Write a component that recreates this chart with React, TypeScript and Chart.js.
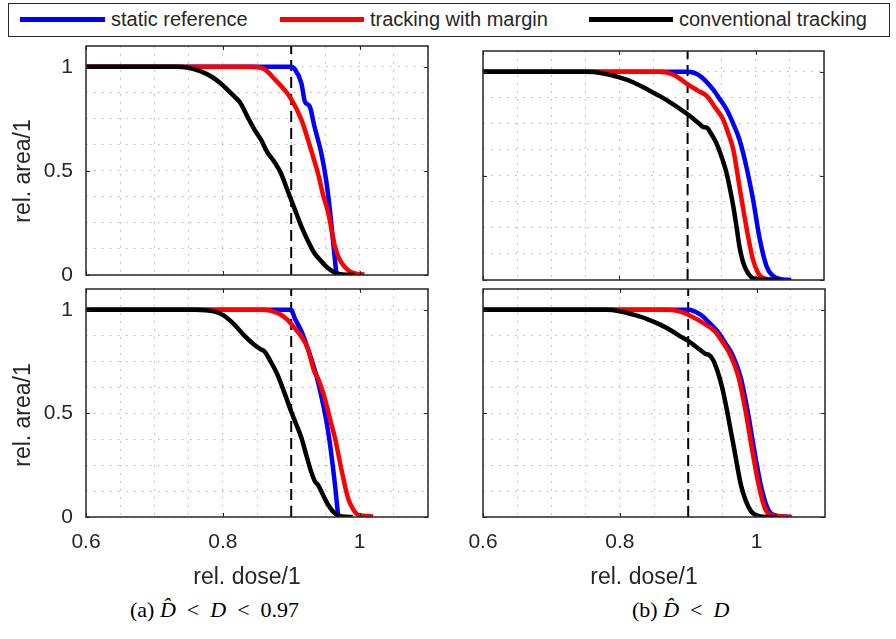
import React, { useEffect, useRef } from "react";
import { Chart, registerables } from "chart.js";

Chart.register(...registerables);

type P = [number, number];

// ---------- data ----------
const X_MIN = 0.6;
const X_MAX = 1.1;
const Y_MIN = 0;
const Y_MAX = 1.1;
const X_GRID_STEP = 0.05;
const Y_GRID_STEP = 0.125;
const X_TICKS = [0.6, 0.8, 1.0];
const X_TICK_LABELS = ["0.6", "0.8", "1"];
const Y_TICKS = [0, 0.5, 1];
const Y_TICK_LABELS = ["0", "0.5", "1"];
const THRESHOLD_DOSE = 0.9;

const SERIES_NAMES = ["static reference", "tracking with margin", "conventional tracking"];
const CAPTIONS = ["(a)", "(b)"];

// (a) top
const A_TOP_STATIC: P[] = [[0.6, 1], [0.9, 1], [0.905, 0.99], [0.915, 0.92], [0.92, 0.833], [0.927, 0.81], [0.934, 0.713], [0.944, 0.585], [0.951, 0.457], [0.956, 0.33], [0.961, 0.168], [0.964, 0.072], [0.966, 0.01], [0.967, 0]];
const A_TOP_MARGIN: P[] = [[0.6, 1], [0.84, 1], [0.86, 0.99], [0.876, 0.94], [0.89, 0.89], [0.9, 0.845], [0.915, 0.745], [0.93, 0.59], [0.939, 0.49], [0.947, 0.38], [0.954, 0.3], [0.96, 0.2], [0.964, 0.136], [0.97, 0.08], [0.978, 0.04], [0.99, 0.01], [1.007, 0.003]];
const A_TOP_CONV: P[] = [[0.6, 1], [0.73, 1], [0.75, 0.995], [0.768, 0.978], [0.785, 0.95], [0.797, 0.92], [0.81, 0.88], [0.817, 0.857], [0.825, 0.83], [0.836, 0.761], [0.846, 0.7], [0.856, 0.649], [0.865, 0.59], [0.875, 0.545], [0.885, 0.489], [0.892, 0.43], [0.9, 0.36], [0.907, 0.3], [0.915, 0.232], [0.925, 0.16], [0.934, 0.104], [0.943, 0.07], [0.954, 0.032], [0.965, 0.01], [0.975, 0.002], [0.993, 0]];

// (a) bottom
const A_BOT_STATIC: P[] = [[0.6, 1], [0.9, 1], [0.905, 0.96], [0.915, 0.895], [0.924, 0.815], [0.939, 0.654], [0.954, 0.413], [0.964, 0.156], [0.968, 0.027], [0.969, 0]];
const A_BOT_MARGIN: P[] = [[0.6, 1], [0.86, 1], [0.875, 0.99], [0.885, 0.976], [0.895, 0.95], [0.905, 0.912], [0.915, 0.87], [0.924, 0.815], [0.934, 0.7], [0.939, 0.67], [0.949, 0.574], [0.957, 0.47], [0.964, 0.381], [0.974, 0.22], [0.983, 0.092], [0.99, 0.04], [0.998, 0.01], [1.02, 0.003]];
const A_BOT_CONV: P[] = [[0.6, 1], [0.76, 1], [0.787, 0.992], [0.8, 0.975], [0.817, 0.928], [0.83, 0.88], [0.846, 0.831], [0.855, 0.81], [0.861, 0.799], [0.87, 0.75], [0.88, 0.686], [0.89, 0.6], [0.9, 0.509], [0.907, 0.45], [0.915, 0.381], [0.922, 0.3], [0.929, 0.22], [0.935, 0.17], [0.939, 0.156], [0.946, 0.11], [0.954, 0.059], [0.963, 0.02], [0.974, 0.003], [0.99, 0]];

// (b) top
const B_TOP_STATIC: P[] = [[0.6, 1], [0.9, 1], [0.918, 0.981], [0.937, 0.917], [0.947, 0.87], [0.957, 0.82], [0.967, 0.75], [0.976, 0.675], [0.986, 0.547], [0.996, 0.386], [1.006, 0.193], [1.016, 0.064], [1.025, 0.02], [1.035, 0.005], [1.052, 0]];
const B_TOP_MARGIN: P[] = [[0.6, 1], [0.86, 1], [0.88, 0.985], [0.9, 0.94], [0.915, 0.91], [0.928, 0.884], [0.94, 0.83], [0.952, 0.772], [0.96, 0.7], [0.967, 0.627], [0.976, 0.45], [0.986, 0.257], [0.996, 0.096], [1.004, 0.03], [1.011, 0.01], [1.025, 0]];
const B_TOP_CONV: P[] = [[0.6, 1], [0.75, 1], [0.775, 0.993], [0.8, 0.973], [0.82, 0.95], [0.84, 0.917], [0.86, 0.882], [0.879, 0.844], [0.9, 0.796], [0.91, 0.77], [0.918, 0.748], [0.923, 0.735], [0.928, 0.732], [0.935, 0.7], [0.942, 0.659], [0.95, 0.59], [0.957, 0.515], [0.962, 0.44], [0.967, 0.354], [0.972, 0.25], [0.976, 0.161], [0.981, 0.09], [0.986, 0.048], [0.993, 0.015], [1.0, 0.005], [1.035, 0]];

// (b) bottom
const B_BOT_STATIC: P[] = [[0.6, 1], [0.9, 1], [0.918, 0.976], [0.93, 0.94], [0.943, 0.895], [0.952, 0.85], [0.962, 0.799], [0.97, 0.74], [0.977, 0.67], [0.987, 0.509], [0.996, 0.333], [1.006, 0.156], [1.016, 0.043], [1.025, 0.01], [1.05, 0]];
const B_BOT_MARGIN: P[] = [[0.6, 1], [0.87, 1], [0.89, 0.99], [0.9, 0.976], [0.92, 0.94], [0.939, 0.895], [0.949, 0.85], [0.959, 0.799], [0.967, 0.74], [0.974, 0.67], [0.984, 0.509], [0.993, 0.333], [1.003, 0.156], [1.012, 0.043], [1.021, 0.01], [1.052, 0]];
const B_BOT_CONV: P[] = [[0.6, 1], [0.78, 1], [0.8, 0.993], [0.82, 0.976], [0.84, 0.955], [0.859, 0.928], [0.875, 0.9], [0.889, 0.87], [0.9, 0.85], [0.91, 0.825], [0.92, 0.8], [0.925, 0.787], [0.93, 0.783], [0.936, 0.76], [0.943, 0.702], [0.95, 0.62], [0.957, 0.509], [0.962, 0.42], [0.967, 0.333], [0.972, 0.24], [0.977, 0.156], [0.984, 0.08], [0.992, 0.027], [1.0, 0.008], [1.006, 0.003], [1.03, 0]];

// ---------- styling ----------
const COLORS = ["#0000ff", "#ff0000", "#000000"];
const SANS = "'Liberation Sans', Arial, Helvetica, sans-serif";
const AXIS_COLOR = "#262626";
const PADL = 80;
const PADR = 6;
const PADT = 6;
const PADB = 44;

type Area = { l: number; t: number; r: number; b: number };
type PanelDef = { area: Area; series: P[][]; showX: boolean; showY: boolean };

const PANELS: PanelDef[] = [
  { area: { l: 86, t: 46, r: 428, b: 275 }, series: [A_TOP_STATIC, A_TOP_MARGIN, A_TOP_CONV], showX: false, showY: true },
  { area: { l: 483, t: 51, r: 824, b: 280 }, series: [B_TOP_STATIC, B_TOP_MARGIN, B_TOP_CONV], showX: false, showY: false },
  { area: { l: 86, t: 289, r: 428, b: 517 }, series: [A_BOT_STATIC, A_BOT_MARGIN, A_BOT_CONV], showX: true, showY: true },
  { area: { l: 483, t: 289, r: 825, b: 517 }, series: [B_BOT_STATIC, B_BOT_MARGIN, B_BOT_CONV], showX: true, showY: false },
];

const near = (a: number, b: number) => Math.abs(a - b) < 1e-6;

const boxPlugin = {
  id: "matlabBox",
  afterDatasetsDraw(chart: any) {
    const { ctx, chartArea } = chart;
    const xs = chart.scales.x;
    const ys = chart.scales.y;
    const { left, right, top, bottom } = chartArea;
    ctx.save();
    ctx.strokeStyle = AXIS_COLOR;
    ctx.lineWidth = 1;
    ctx.beginPath();
    X_TICKS.forEach((v) => {
      const px = Math.round(xs.getPixelForValue(v)) + 0.5;
      ctx.moveTo(px, bottom);
      ctx.lineTo(px, bottom - 4);
      ctx.moveTo(px, top);
      ctx.lineTo(px, top + 4);
    });
    Y_TICKS.forEach((v) => {
      const py = Math.round(ys.getPixelForValue(v)) + 0.5;
      ctx.moveTo(left, py);
      ctx.lineTo(left + 4, py);
      ctx.moveTo(right, py);
      ctx.lineTo(right - 4, py);
    });
    ctx.stroke();
    ctx.lineWidth = 1.5;
    ctx.strokeRect(left, top, right - left, bottom - top);
    ctx.restore();
  },
};

function makeConfig(p: PanelDef) {
  const names = SERIES_NAMES;
  const lines = p.series.map((pts, i) => ({
    label: names[i],
    data: pts.map(([x, y]) => ({ x, y })),
    borderColor: COLORS[i],
    backgroundColor: COLORS[i],
    borderWidth: 4.5,
    pointRadius: 0,
    fill: false,
    cubicInterpolationMode: "monotone",
    order: 2 - i,
  }));
  const dashed = {
    label: "threshold",
    data: [
      { x: THRESHOLD_DOSE, y: Y_MIN },
      { x: THRESHOLD_DOSE, y: Y_MAX },
    ],
    borderColor: "#000000",
    borderWidth: 2,
    borderDash: [11, 6],
    pointRadius: 0,
    fill: false,
    order: 5,
  };
  return {
    type: "line",
    data: { datasets: [...lines, dashed] },
    options: {
      animation: false,
      responsive: false,
      maintainAspectRatio: false,
      events: [],
      layout: { padding: { left: 0, right: PADR, top: PADT, bottom: 0 } },
      plugins: { legend: { display: false }, tooltip: { enabled: false } },
      scales: {
        x: {
          type: "linear",
          min: X_MIN,
          max: X_MAX,
          afterFit: (s: any) => {
            s.height = PADB;
            s.paddingLeft = 0;
            s.paddingRight = 0;
          },
          ticks: {
            stepSize: X_GRID_STEP,
            autoSkip: false,
            maxRotation: 0,
            padding: 13,
            color: AXIS_COLOR,
            font: { family: SANS, size: 21 },
            callback: (v: number) => {
              if (!p.showX) return "";
              const i = X_TICKS.findIndex((t) => near(t, v));
              return i >= 0 ? X_TICK_LABELS[i] : "";
            },
          },
          grid: { color: "#b4b4b4", lineWidth: 1, drawTicks: false },
          border: { display: false, dash: [1.5, 6.5] },
        },
        y: {
          type: "linear",
          min: Y_MIN,
          max: Y_MAX,
          afterFit: (s: any) => {
            s.width = PADL;
            s.paddingTop = 0;
            s.paddingBottom = 0;
          },
          ticks: {
            stepSize: Y_GRID_STEP,
            autoSkip: false,
            includeBounds: false,
            padding: 13,
            color: AXIS_COLOR,
            font: { family: SANS, size: 21 },
            callback: (v: number) => {
              if (!p.showY) return "";
              const i = Y_TICKS.findIndex((t) => near(t, v));
              return i >= 0 ? Y_TICK_LABELS[i] : "";
            },
          },
          grid: { color: "#b4b4b4", lineWidth: 1, drawTicks: false },
          border: { display: false, dash: [1.5, 6.5] },
        },
      },
    },
    plugins: [boxPlugin],
  } as any;
}

function Panel({ def }: { def: PanelDef }) {
  const ref = useRef<HTMLCanvasElement | null>(null);
  const { l, t, r, b } = def.area;
  const w = r - l + PADL + PADR;
  const h = b - t + PADT + PADB;
  useEffect(() => {
    if (!ref.current) return;
    const chart = new Chart(ref.current, makeConfig(def));
    return () => chart.destroy();
  }, [def]);
  return (
    <canvas
      ref={ref}
      width={w}
      height={h}
      style={{ position: "absolute", left: l - PADL, top: t - PADT, width: w, height: h }}
    />
  );
}

const abs = (s: React.CSSProperties): React.CSSProperties => ({ position: "absolute", ...s });

export default function App() {
  const legendItems = [
    { line: [20, 105], text: 111 },
    { line: [280, 364], text: 370 },
    { line: [589, 673], text: 679 },
  ];
  const txt: React.CSSProperties = { fontFamily: SANS, color: AXIS_COLOR, whiteSpace: "nowrap", lineHeight: 1 };
  const serif: React.CSSProperties = { fontFamily: "'Liberation Serif', 'DejaVu Serif', serif", fontSize: 22, color: "#000", whiteSpace: "nowrap", lineHeight: 1 };
  const rel: React.CSSProperties = { margin: "0 0.5em" };
  return (
    <div style={{ position: "absolute", left: 0, top: 0, width: 896, height: 639, background: "#fff", overflow: "hidden" }}>
      {/* legend */}
      <div style={abs({ left: 8, top: 3, width: 882, height: 34, border: `1px solid ${AXIS_COLOR}`, boxSizing: "border-box", background: "#fff" })} />
      {legendItems.map((it, i) => (
        <React.Fragment key={i}>
          <div style={abs({ left: it.line[0], top: 17, width: it.line[1] - it.line[0], height: 4.5, background: COLORS[i] })} />
          <div style={abs({ ...txt, left: it.text, top: 19, fontSize: 20, transform: "translateY(-50%)" })}>{SERIES_NAMES[i]}</div>
        </React.Fragment>
      ))}
      {PANELS.map((p, i) => (
        <Panel key={i} def={p} />
      ))}
      {/* y labels */}
      {[171, 415].map((cy, i) => (
        <div key={i} style={abs({ ...txt, fontSize: 23, left: 22, top: cy, transform: "translate(-50%, -50%) rotate(-90deg)" })}>rel. area/1</div>
      ))}
      {/* x labels */}
      {[247, 644].map((cx, i) => (
        <div key={i} style={abs({ ...txt, fontSize: 23, left: cx, top: 576, transform: "translate(-50%, -50%)" })}>rel. dose/1</div>
      ))}
      {/* captions */}
      <div style={abs({ ...serif, left: 130, top: 610, transform: "translateY(-50%)" })}>
        {CAPTIONS[0]} <i>D&#770;</i>
        <span style={rel}>&lt;</span>
        <i>D</i>
        <span style={rel}>&lt;</span>0.97
      </div>
      <div style={abs({ ...serif, left: 632, top: 610, transform: "translateY(-50%)" })}>
        {CAPTIONS[1]} <i>D&#770;</i>
        <span style={rel}>&lt;</span>
        <i>D</i>
      </div>
    </div>
  );
}
